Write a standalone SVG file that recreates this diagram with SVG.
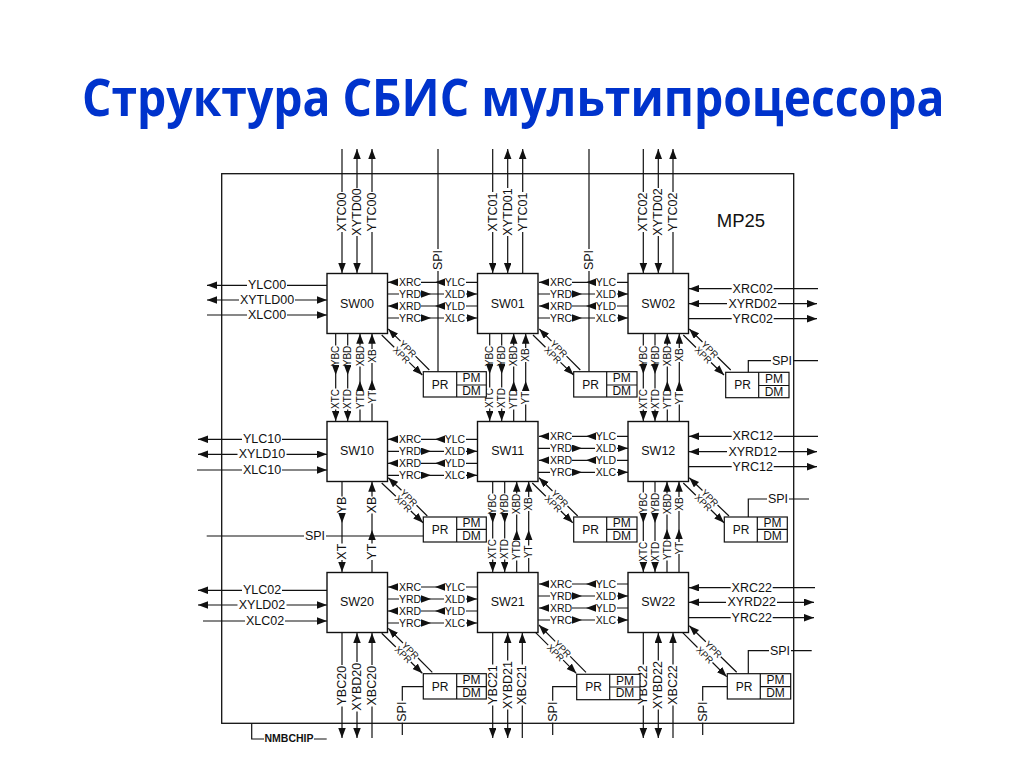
<svg xmlns="http://www.w3.org/2000/svg" width="1024" height="768" viewBox="0 0 1024 768">
<style>
text{font-family:"Liberation Sans",Arial,sans-serif;fill:#111;text-anchor:middle;dominant-baseline:central}
.t{font-family:"Open Sans","Noto Sans",sans-serif;font-weight:700;font-size:52px;fill:#0033cc;text-anchor:start;dominant-baseline:alphabetic}
.c path{fill:none;stroke:#111;stroke-width:1.2}
.c .e{marker-end:url(#a)}
.c .b{marker-start:url(#a);marker-end:url(#a)}
.o{font-size:12.5px}
.i{font-size:10.5px}
.v{font-size:10px}
.d{font-size:9.5px}
.n{font-size:12.5px}
.p{font-size:12px}
.box{fill:#fff;stroke:#111;stroke-width:1.4}
.pr{fill:#fff;stroke:#111;stroke-width:1.2}
.fr{fill:none;stroke:#111;stroke-width:1.3}
</style>
<defs>
<marker id="a" markerUnits="userSpaceOnUse" markerWidth="10" markerHeight="8" refX="10" refY="3.75" orient="auto-start-reverse"><path d="M0 0L10 3.75L0 7.5z" fill="#111"/></marker>
</defs>
<rect width="1024" height="768" fill="#fff"/>
<text class="t" transform="translate(82 116) scale(.89 1)">Структура СБИС мультипроцессора</text>
<g id="frame">
<rect class="fr" x="221.7" y="173.7" width="572" height="549.6"/>
<text x="741" y="220" font-size="18.5">MP25</text>
</g>
<g id="connectors" class="c">
<path d="M251.7 723.3V739H264M314 739H326.7"/>
<text x="289" y="738" font-size="10.5" font-weight="700">NMBCHIP</text>
<!-- top -->
<path class="e" d="M342 149V192M342 232V273"/><text class="o" transform="translate(342 212) rotate(-90)">XTC00</text>
<path class="b" d="M357 149V188M357 236V273"/><text class="o" transform="translate(357 212) rotate(-90)">XYTD00</text>
<path class="e" d="M372 273V232M372 192V149"/><text class="o" transform="translate(372 212) rotate(-90)">YTC00</text>
<path class="e" d="M492.7 149V192M492.7 232V273"/><text class="o" transform="translate(492.7 212) rotate(-90)">XTC01</text>
<path class="b" d="M507.7 149V188M507.7 236V273"/><text class="o" transform="translate(507.7 212) rotate(-90)">XYTD01</text>
<path class="e" d="M522.7 273V232M522.7 192V149"/><text class="o" transform="translate(522.7 212) rotate(-90)">YTC01</text>
<path class="e" d="M643.3 149V192M643.3 232V273"/><text class="o" transform="translate(643.3 212) rotate(-90)">XTC02</text>
<path class="b" d="M658.3 149V188M658.3 236V273"/><text class="o" transform="translate(658.3 212) rotate(-90)">XYTD02</text>
<path class="e" d="M673 273V232M673 192V149"/><text class="o" transform="translate(673 212) rotate(-90)">YTC02</text>
<path d="M438 149V249M438 271V372"/><text class="o" transform="translate(438 260) rotate(-90)">SPI</text>
<path d="M589 149V249M589 271V372"/><text class="o" transform="translate(589 260) rotate(-90)">SPI</text>
<!-- left -->
<path class="e" d="M327 285.3H287M247 285.3H207"/><text class="o" x="267" y="285.3">YLC00</text>
<path class="b" d="M207 300H239M295 300H327"/><text class="o" x="267" y="300">XYTLD00</text>
<path class="e" d="M207 315H247M287 315H327"/><text class="o" x="267" y="315">XLC00</text>
<path class="e" d="M327 439.3H282M242 439.3H198"/><text class="o" x="262" y="439.3">YLC10</text>
<path class="b" d="M198 454.3H237.5M286.5 454.3H327"/><text class="o" x="262" y="454.3">XYLD10</text>
<path class="e" d="M197 470H242M282 470H327"/><text class="o" x="262" y="470">XLC10</text>
<path class="e" d="M327 590.3H282M242 590.3H198"/><text class="o" x="262" y="590.3">YLC02</text>
<path class="b" d="M198 605H237.5M286.5 605H327"/><text class="o" x="262" y="605">XYLD02</text>
<path class="e" d="M203 621H245M285 621H327"/><text class="o" x="265" y="621">XLC02</text>
<!-- right -->
<path class="e" d="M818 288.7H773.7M731.7 288.7H689"/><text class="o" x="752.7" y="288.7">XRC02</text>
<path class="b" d="M689 303.7H727M778 303.7H817"/><text class="o" x="752.7" y="303.7">XYRD02</text>
<path class="e" d="M688 318.7H731.7M773.7 318.7H817"/><text class="o" x="752.7" y="318.7">YRC02</text>
<path class="e" d="M818 436.3H773.7M731.7 436.3H689"/><text class="o" x="752.7" y="436.3">XRC12</text>
<path class="b" d="M689 451.7H727M778 451.7H817"/><text class="o" x="752.7" y="451.7">XYRD12</text>
<path class="e" d="M688 466.7H731.7M773.7 466.7H817"/><text class="o" x="752.7" y="466.7">YRC12</text>
<path class="e" d="M815 587.7H772.7M730.7 587.7H689"/><text class="o" x="751.7" y="587.7">XRC22</text>
<path class="b" d="M689 602.3H726M777 602.3H814"/><text class="o" x="751.7" y="602.3">XYRD22</text>
<path class="e" d="M688 617.7H730.7M772.7 617.7H814"/><text class="o" x="751.7" y="617.7">YRC22</text>
<!-- horizontal gaps row 0 -->
<path class="e" d="M477 282.3H466M445 282.3H435"/><path class="e" d="M435 282.3H421M398 282.3H388"/><text class="i" x="410" y="282.3">XRC</text><text class="i" x="455" y="282.3">YLC</text>
<path class="e" d="M387 294H399M421 294H431"/><path class="e" d="M431 294H444M466 294H477"/><text class="i" x="410" y="294">YRD</text><text class="i" x="455" y="294">XLD</text>
<path class="e" d="M477 306H466M445 306H435"/><path class="e" d="M435 306H421M398 306H388"/><text class="i" x="410" y="306">XRD</text><text class="i" x="455" y="306">YLD</text>
<path class="e" d="M387 318H399M421 318H431"/><path class="e" d="M431 318H444M466 318H477"/><text class="i" x="410" y="318">YRC</text><text class="i" x="455" y="318">XLC</text>
<path class="e" d="M628 282.3H617M596 282.3H586"/><path class="e" d="M586 282.3H572M549 282.3H539"/><text class="i" x="561" y="282.3">XRC</text><text class="i" x="606" y="282.3">YLC</text>
<path class="e" d="M538 294H550M572 294H582"/><path class="e" d="M582 294H595M617 294H628"/><text class="i" x="561" y="294">YRD</text><text class="i" x="606" y="294">XLD</text>
<path class="e" d="M628 306H617M596 306H586"/><path class="e" d="M586 306H572M549 306H539"/><text class="i" x="561" y="306">XRD</text><text class="i" x="606" y="306">YLD</text>
<path class="e" d="M538 318H550M572 318H582"/><path class="e" d="M582 318H595M617 318H628"/><text class="i" x="561" y="318">YRC</text><text class="i" x="606" y="318">XLC</text>
<!-- row 1 -->
<path class="e" d="M477 439.3H466M445 439.3H435"/><path class="e" d="M435 439.3H421M398 439.3H388"/><text class="i" x="410" y="439.3">XRC</text><text class="i" x="455" y="439.3">YLC</text>
<path class="e" d="M387 451.3H399M421 451.3H431"/><path class="e" d="M431 451.3H444M466 451.3H477"/><text class="i" x="410" y="451.3">YRD</text><text class="i" x="455" y="451.3">XLD</text>
<path class="e" d="M477 463.3H466M445 463.3H435"/><path class="e" d="M435 463.3H421M398 463.3H388"/><text class="i" x="410" y="463.3">XRD</text><text class="i" x="455" y="463.3">YLD</text>
<path class="e" d="M387 475.3H399M421 475.3H431"/><path class="e" d="M431 475.3H444M466 475.3H477"/><text class="i" x="410" y="475.3">YRC</text><text class="i" x="455" y="475.3">XLC</text>
<path class="e" d="M628 436.3H617M596 436.3H586"/><path class="e" d="M586 436.3H572M549 436.3H539"/><text class="i" x="561" y="436.3">XRC</text><text class="i" x="606" y="436.3">YLC</text>
<path class="e" d="M538 448.3H550M572 448.3H582"/><path class="e" d="M582 448.3H595M617 448.3H628"/><text class="i" x="561" y="448.3">YRD</text><text class="i" x="606" y="448.3">XLD</text>
<path class="e" d="M628 460.3H617M596 460.3H586"/><path class="e" d="M586 460.3H572M549 460.3H539"/><text class="i" x="561" y="460.3">XRD</text><text class="i" x="606" y="460.3">YLD</text>
<path class="e" d="M538 472.3H550M572 472.3H582"/><path class="e" d="M582 472.3H595M617 472.3H628"/><text class="i" x="561" y="472.3">YRC</text><text class="i" x="606" y="472.3">XLC</text>
<!-- row 2 -->
<path class="e" d="M477 587H466M445 587H435"/><path class="e" d="M435 587H421M398 587H388"/><text class="i" x="410" y="587">XRC</text><text class="i" x="455" y="587">YLC</text>
<path class="e" d="M387 599H399M421 599H431"/><path class="e" d="M431 599H444M466 599H477"/><text class="i" x="410" y="599">YRD</text><text class="i" x="455" y="599">XLD</text>
<path class="e" d="M477 611H466M445 611H435"/><path class="e" d="M435 611H421M398 611H388"/><text class="i" x="410" y="611">XRD</text><text class="i" x="455" y="611">YLD</text>
<path class="e" d="M387 623H399M421 623H431"/><path class="e" d="M431 623H444M466 623H477"/><text class="i" x="410" y="623">YRC</text><text class="i" x="455" y="623">XLC</text>
<path class="e" d="M628 584H617M596 584H586"/><path class="e" d="M586 584H572M549 584H539"/><text class="i" x="561" y="584">XRC</text><text class="i" x="606" y="584">YLC</text>
<path class="e" d="M538 596H550M572 596H582"/><path class="e" d="M582 596H595M617 596H628"/><text class="i" x="561" y="596">YRD</text><text class="i" x="606" y="596">XLD</text>
<path class="e" d="M628 608H617M596 608H586"/><path class="e" d="M586 608H572M549 608H539"/><text class="i" x="561" y="608">XRD</text><text class="i" x="606" y="608">YLD</text>
<path class="e" d="M538 620H550M572 620H582"/><path class="e" d="M582 620H595M617 620H628"/><text class="i" x="561" y="620">YRC</text><text class="i" x="606" y="620">XLC</text>
<!-- vertical rows 0-1 -->
<path class="e" d="M335.7 333.5V345.5M335.7 366V375"/><path class="e" d="M335.7 375V388.5M335.7 409.5V421"/><text class="v" transform="translate(335.7 356) rotate(-90)">YBC</text><text class="v" transform="translate(335.7 399) rotate(-90)">XTC</text>
<path class="e" d="M347.7 333.5V345.5M347.7 366V375"/><path class="e" d="M347.7 375V388.5M347.7 409.5V421"/><text class="v" transform="translate(347.7 356) rotate(-90)">YBD</text><text class="v" transform="translate(347.7 399) rotate(-90)">XTD</text>
<path class="e" d="M360 421V409.5M360 391V381"/><path class="e" d="M360 381V366.5M360 345.5V333.7"/><text class="v" transform="translate(360 356) rotate(-90)">XBD</text><text class="v" transform="translate(360 399) rotate(-90)">YTD</text>
<path class="e" d="M372 421V403.5M372 390.5V380"/><path class="e" d="M372 380V363M372 349V333.7"/><text class="v" transform="translate(372 356) rotate(-90)">XB</text><text class="v" transform="translate(372 397) rotate(-90)">YT</text>
<path class="e" d="M489.7 333.5V345.5M489.7 366V374"/><path class="e" d="M489.7 374V387.5M489.7 408.5V421"/><text class="v" transform="translate(489.7 356) rotate(-90)">YBC</text><text class="v" transform="translate(489.7 398) rotate(-90)">XTC</text>
<path class="e" d="M501.7 333.5V345.5M501.7 366V374"/><path class="e" d="M501.7 374V387.5M501.7 408.5V421"/><text class="v" transform="translate(501.7 356) rotate(-90)">YBD</text><text class="v" transform="translate(501.7 398) rotate(-90)">XTD</text>
<path class="e" d="M513.7 421V409.5M513.7 391V381"/><path class="e" d="M513.7 381V366.5M513.7 345.5V333.7"/><text class="v" transform="translate(513.7 356) rotate(-90)">XBD</text><text class="v" transform="translate(513.7 399) rotate(-90)">YTD</text>
<path class="e" d="M525.7 421V404.5M525.7 391V381"/><path class="e" d="M525.7 381V362M525.7 348V333.7"/><text class="v" transform="translate(525.7 355) rotate(-90)">XB</text><text class="v" transform="translate(525.7 398) rotate(-90)">YT</text>
<path class="e" d="M643.3 333.5V345.5M643.3 366V374"/><path class="e" d="M643.3 374V388.5M643.3 409.5V421"/><text class="v" transform="translate(643.3 356) rotate(-90)">YBC</text><text class="v" transform="translate(643.3 399) rotate(-90)">XTC</text>
<path class="e" d="M655 333.5V345.5M655 366V374"/><path class="e" d="M655 374V388.5M655 409.5V421"/><text class="v" transform="translate(655 356) rotate(-90)">YBD</text><text class="v" transform="translate(655 399) rotate(-90)">XTD</text>
<path class="e" d="M667.3 421V409.5M667.3 391V381"/><path class="e" d="M667.3 381V366.5M667.3 345.5V333.7"/><text class="v" transform="translate(667.3 356) rotate(-90)">XBD</text><text class="v" transform="translate(667.3 399) rotate(-90)">YTD</text>
<path class="e" d="M679.3 421V404.5M679.3 391V381"/><path class="e" d="M679.3 381V362M679.3 348V333.7"/><text class="v" transform="translate(679.3 355) rotate(-90)">XB</text><text class="v" transform="translate(679.3 398) rotate(-90)">YT</text>
<!-- vertical rows 1-2 -->
<path class="e" d="M342 481.7V496.5M342 513.5V523"/><path class="e" d="M342 523V543.5M342 560V572"/><text class="o" transform="translate(342 505) rotate(-90)">YB</text><text class="o" transform="translate(342 551.7) rotate(-90)">XT</text>
<path class="e" d="M372 572V560M372 543.5V530"/><path class="e" d="M372 530V513.5M372 496.5V481.7"/><text class="o" transform="translate(372 505) rotate(-90)">XB</text><text class="o" transform="translate(372 551.7) rotate(-90)">YT</text>
<path class="e" d="M492.7 481.7V493.5M492.7 514.5V523"/><path class="e" d="M492.7 523V538.5M492.7 559.5V572"/><text class="v" transform="translate(492.7 504) rotate(-90)">YBC</text><text class="v" transform="translate(492.7 549) rotate(-90)">XTC</text>
<path class="e" d="M504.7 481.7V493.5M504.7 514.5V523"/><path class="e" d="M504.7 523V538.5M504.7 559.5V572"/><text class="v" transform="translate(504.7 504) rotate(-90)">YBD</text><text class="v" transform="translate(504.7 549) rotate(-90)">XTD</text>
<path class="e" d="M516.7 572V560.5M516.7 540V530"/><path class="e" d="M516.7 530V514.5M516.7 493.5V481.7"/><text class="v" transform="translate(516.7 504) rotate(-90)">XBD</text><text class="v" transform="translate(516.7 550) rotate(-90)">YTD</text>
<path class="e" d="M528.7 572V558M528.7 545.5V530"/><path class="e" d="M528.7 530V511M528.7 497V481.7"/><text class="v" transform="translate(528.7 504) rotate(-90)">XB</text><text class="v" transform="translate(528.7 551.7) rotate(-90)">YT</text>
<path class="e" d="M643.3 481.7V492.5M643.3 513.5V523"/><path class="e" d="M643.3 523V541M643.3 562V572"/><text class="v" transform="translate(643.3 503) rotate(-90)">YBC</text><text class="v" transform="translate(643.3 551.7) rotate(-90)">XTC</text>
<path class="e" d="M655 481.7V492.5M655 513.5V523"/><path class="e" d="M655 523V541M655 562V572"/><text class="v" transform="translate(655 503) rotate(-90)">YBD</text><text class="v" transform="translate(655 551.7) rotate(-90)">XTD</text>
<path class="e" d="M667 572V560.5M667 539.5V529"/><path class="e" d="M667 529V514.5M667 493.5V481.7"/><text class="v" transform="translate(667 504) rotate(-90)">XBD</text><text class="v" transform="translate(667 550) rotate(-90)">YTD</text>
<path class="e" d="M679 572V554M679 542V529"/><path class="e" d="M679 529V511M679 497V481.7"/><text class="v" transform="translate(679 504) rotate(-90)">XB</text><text class="v" transform="translate(679 548) rotate(-90)">YT</text>
<!-- bottom -->
<path class="e" d="M342 632.7V665M342 706.5V738"/><text class="o" transform="translate(342 685.7) rotate(-90)">YBC20</text>
<path class="b" d="M357 633V662M357 711.5V738"/><text class="o" transform="translate(357 686.7) rotate(-90)">XYBD20</text>
<path class="e" d="M372 738V706.5M372 665V633"/><text class="o" transform="translate(372 685.7) rotate(-90)">XBC20</text>
<path class="e" d="M492.7 632.7V664.5M492.7 705.5V738"/><text class="o" transform="translate(492.7 685) rotate(-90)">YBC21</text>
<path class="b" d="M507.7 633V660.5M507.7 709.5V738"/><text class="o" transform="translate(507.7 685) rotate(-90)">XYBD21</text>
<path class="e" d="M522.3 738V705.5M522.3 664.5V633"/><text class="o" transform="translate(522.3 685) rotate(-90)">XBC21</text>
<path class="e" d="M643.3 632.7V664.5M643.3 705.5V738"/><text class="o" transform="translate(643.3 685) rotate(-90)">YBC22</text>
<path class="b" d="M658.3 633V660.5M658.3 709.5V738"/><text class="o" transform="translate(658.3 685) rotate(-90)">XYBD22</text>
<path class="e" d="M673 738V705.5M673 664.5V633"/><text class="o" transform="translate(673 685) rotate(-90)">XBC22</text>
<!-- diagonals -->
<path class="e" d="M429.3 370L415.5 356.2M400.5 341.2L388.3 329"/><text class="d" transform="translate(408 348.7) rotate(45)">YPR</text>
<path class="e" d="M381.7 335L394.2 347.3M409.2 362.4L422.3 375"/><text class="d" transform="translate(401.7 355) rotate(45)">XPR</text>
<path class="e" d="M580.3 370L566.5 356.2M551.5 341.2L539.3 329"/><text class="d" transform="translate(559 348.7) rotate(45)">YPR</text>
<path class="e" d="M533 335L545.5 347.3M560.5 362.4L573.6 375"/><text class="d" transform="translate(553 355) rotate(45)">XPR</text>
<path class="e" d="M730.7 370L717.5 357M702.5 342L689.3 329"/><text class="d" transform="translate(710 349.5) rotate(45)">YPR</text>
<path class="e" d="M683.3 335L696 347.5M711 362.5L724 375"/><text class="d" transform="translate(703.5 355) rotate(45)">XPR</text>
<path class="e" d="M427.3 516L416.5 505.3M401.5 490.3L388.3 477.7"/><text class="d" transform="translate(409 497.8) rotate(45)">YPR</text>
<path class="e" d="M381.7 483L395.8 496.3M410.8 511L423 522.7"/><text class="d" transform="translate(403.3 503.6) rotate(45)">XPR</text>
<path class="e" d="M577.7 516L567.5 506M552.5 491L539 477.7"/><text class="d" transform="translate(560 498.5) rotate(45)">YPR</text>
<path class="e" d="M532.3 483L545.8 496.2M560.8 511L572.7 522.7"/><text class="d" transform="translate(553.3 503.6) rotate(45)">XPR</text>
<path class="e" d="M729 516L717.5 505M702.5 490.5L689.3 477.7"/><text class="d" transform="translate(710 497.7) rotate(45)">YPR</text>
<path class="e" d="M683.3 483L695.8 495.2M710.8 509.8L724 522.7"/><text class="d" transform="translate(703.3 502.5) rotate(45)">XPR</text>
<path class="e" d="M432.3 672.3L418 658M403 643L388.3 628.3"/><text class="d" transform="translate(410.5 650.5) rotate(45)">YPR</text>
<path class="e" d="M381.7 633.3L395.8 647M410.8 662L422.3 673.3"/><text class="d" transform="translate(403.3 654.5) rotate(45)">XPR</text>
<path class="e" d="M586 672.3L570.2 656.3M555.2 641.3L539 625"/><text class="d" transform="translate(562.7 648.8) rotate(45)">YPR</text>
<path class="e" d="M535.7 632.7L548.2 645.2M563.2 660.2L576.3 673.3"/><text class="d" transform="translate(555.7 652.7) rotate(45)">XPR</text>
<path class="e" d="M736.7 672.3L720.8 656.7M705.8 641.7L689.3 625.7"/><text class="d" transform="translate(713.3 649.2) rotate(45)">YPR</text>
<path class="e" d="M682.7 632.7L697.5 647.5M712.5 662.5L726.7 676.7"/><text class="d" transform="translate(705 655) rotate(45)">XPR</text>
<!-- SPI branches -->
<path d="M748.3 372.3V360.7H771M793 360.7H818"/><text class="o" x="782" y="360.7">SPI</text>
<path d="M206.7 536H304M326 536H423.3"/><text class="o" x="315" y="536">SPI</text>
<path d="M748.3 517V499H767M789 499H809"/><text class="o" x="778" y="499">SPI</text>
<path d="M423.3 686.7H402.3V700.7M402.3 722.7V735"/><text class="o" transform="translate(402.3 711.7) rotate(-90)">SPI</text>
<path d="M576.7 686.7H552.7V700.7M552.7 722.7V735"/><text class="o" transform="translate(552.7 711.7) rotate(-90)">SPI</text>
<path d="M748.3 673.7V650.7H769M791 650.7H811.7"/><text class="o" x="780" y="650.7">SPI</text>
<path d="M727.3 686.7H702.7V700.7M702.7 722.7V735"/><text class="o" transform="translate(702.7 711.7) rotate(-90)">SPI</text>
</g>
<g id="sw00"><rect class="box" x="327" y="273.5" width="60.5" height="60"/><text class="n" x="357" y="303.5">SW00</text></g>
<g id="sw01"><rect class="box" x="477.5" y="273.5" width="60.5" height="60"/><text class="n" x="507.7" y="303.5">SW01</text></g>
<g id="sw02"><rect class="box" x="628" y="273.5" width="60.5" height="60"/><text class="n" x="658.3" y="303.5">SW02</text></g>
<g id="sw10"><rect class="box" x="327" y="421.5" width="60.5" height="60"/><text class="n" x="357" y="451">SW10</text></g>
<g id="sw11"><rect class="box" x="477.5" y="421.5" width="60.5" height="60"/><text class="n" x="507.7" y="451">SW11</text></g>
<g id="sw12"><rect class="box" x="628" y="421.5" width="60.5" height="60"/><text class="n" x="658.3" y="451">SW12</text></g>
<g id="sw20"><rect class="box" x="327" y="572.5" width="60.5" height="60"/><text class="n" x="357" y="602">SW20</text></g>
<g id="sw21"><rect class="box" x="477.5" y="572.5" width="60.5" height="60"/><text class="n" x="507.7" y="602">SW21</text></g>
<g id="sw22"><rect class="box" x="628" y="572.5" width="60.5" height="60"/><text class="n" x="658.3" y="602">SW22</text></g>
<g id="pr00"><rect class="pr" x="423.3" y="371.7" width="63" height="25.3"/><path class="pr" d="M456.7 371.7V397M456.7 385H486.3"/><text class="p" x="440" y="384.5">PR</text><text class="p" x="471.5" y="378.3">PM</text><text class="p" x="471.5" y="391">DM</text></g>
<g id="pr01"><rect class="pr" x="573.7" y="371.7" width="63.3" height="25.3"/><path class="pr" d="M606.7 371.7V397M606.7 385H637"/><text class="p" x="590.5" y="384.5">PR</text><text class="p" x="621.8" y="378.3">PM</text><text class="p" x="621.8" y="391">DM</text></g>
<g id="pr02"><rect class="pr" x="725.7" y="372.3" width="63.3" height="25.4"/><path class="pr" d="M758.7 372.3V397.7M758.7 385.5H789"/><text class="p" x="742.5" y="385">PR</text><text class="p" x="774" y="379">PM</text><text class="p" x="774" y="391.8">DM</text></g>
<g id="pr10"><rect class="pr" x="423.3" y="517" width="63" height="25"/><path class="pr" d="M456.7 517V542M456.7 529.3H486.3"/><text class="p" x="440" y="529.5">PR</text><text class="p" x="471.5" y="523.3">PM</text><text class="p" x="471.5" y="535.8">DM</text></g>
<g id="pr11"><rect class="pr" x="573.7" y="517" width="63.3" height="25"/><path class="pr" d="M606.7 517V542M606.7 529.3H637"/><text class="p" x="590.5" y="529.5">PR</text><text class="p" x="621.8" y="523.3">PM</text><text class="p" x="621.8" y="535.8">DM</text></g>
<g id="pr12"><rect class="pr" x="724.3" y="517" width="63" height="25"/><path class="pr" d="M757.3 517V542M757.3 529.3H787.3"/><text class="p" x="741" y="529.5">PR</text><text class="p" x="772.5" y="523.3">PM</text><text class="p" x="772.5" y="535.8">DM</text></g>
<g id="pr20"><rect class="pr" x="423.3" y="673.7" width="63" height="25.3"/><path class="pr" d="M456.7 673.7V699M456.7 686.7H486.3"/><text class="p" x="440" y="686.5">PR</text><text class="p" x="471.5" y="680">PM</text><text class="p" x="471.5" y="692.8">DM</text></g>
<g id="pr21"><rect class="pr" x="576.7" y="674.3" width="63.3" height="25.4"/><path class="pr" d="M609.7 674.3V699.7M609.7 687H640"/><text class="p" x="593.5" y="687">PR</text><text class="p" x="625" y="680.5">PM</text><text class="p" x="625" y="693.3">DM</text></g>
<g id="pr22"><rect class="pr" x="727.3" y="673.7" width="63.4" height="25.3"/><path class="pr" d="M760.3 673.7V699M760.3 686.7H790.7"/><text class="p" x="744" y="686.5">PR</text><text class="p" x="775.5" y="680">PM</text><text class="p" x="775.5" y="692.8">DM</text></g>
</svg>
